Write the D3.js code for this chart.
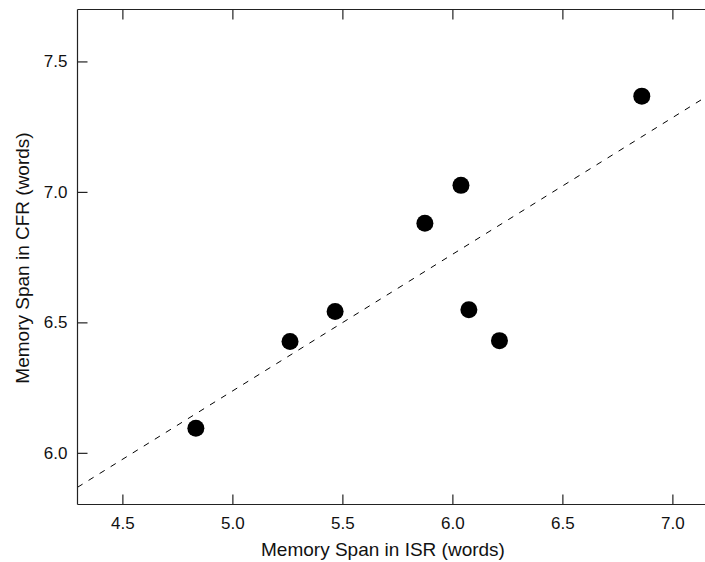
<!DOCTYPE html>
<html>
<head>
<meta charset="utf-8">
<script src="https://cdn.jsdelivr.net/npm/d3@7"></script>
<style>
  html, body { margin: 0; padding: 0; background: #fff; }
  svg { display: block; font-family: "Liberation Sans", Arial, Helvetica, sans-serif; }
</style>
</head>
<body>
<svg id="chart" width="705" height="562"></svg>
<script>
// Memory span per participant group: immediate serial recall vs. free recall
const isrSpan = [4.834, 5.262, 5.467, 5.875, 6.039, 6.075, 6.214, 6.861];
const cfrSpan = [6.094, 6.427, 6.542, 6.880, 7.025, 6.548, 6.430, 7.367];

// Least-squares fit line, given by its two end points
const fitX = [4.296, 7.2];
const fitY = [5.868, 7.389];

const xTicks = [4.5, 5.0, 5.5, 6.0, 6.5, 7.0];
const yTicks = [6.0, 6.5, 7.0, 7.5];

const xTitle = "Memory Span in ISR (words)";
const yTitle = "Memory Span in CFR (words)";

const svg = d3.select("#chart");
const W = 705, H = 562;
const padL = 77.5, padT = 9.5, padB = 504.5;

const x = d3.scaleLinear().domain([4.296, 7.2]).range([padL, padL + 2.904 * 220]);
const y = d3.scaleLinear().domain([5.802, 7.699]).range([padB, padT]);

svg.append("defs").append("clipPath").attr("id", "plotClip")
  .append("rect").attr("x", padL).attr("y", padT).attr("width", W - padL).attr("height", padB - padT);

// Fit line (dashed)
svg.append("g").attr("clip-path", "url(#plotClip)")
  .append("path")
  .datum(fitX.map((v, i) => [v, fitY[i]]))
  .attr("d", d3.line().x(d => x(d[0])).y(d => y(d[1])))
  .attr("fill", "none")
  .attr("stroke", "#000")
  .attr("stroke-width", 1)
  .attr("stroke-dasharray", "6,7");

// Points
svg.append("g").selectAll("circle")
  .data(isrSpan.map((v, i) => [v, cfrSpan[i]]))
  .join("circle")
  .attr("cx", d => x(d[0]))
  .attr("cy", d => y(d[1]))
  .attr("r", 8.5)
  .attr("fill", "#000");

const tickLen = 10;
const axisColor = "#222";

// Bottom axis, ticks pointing inward
const gx = svg.append("g").attr("transform", `translate(0,${padB})`)
  .call(d3.axisBottom(x).tickValues(xTicks).tickFormat(d3.format(".1f")).tickSize(-tickLen).tickPadding(12));
// Left axis, ticks pointing inward
const gy = svg.append("g").attr("transform", `translate(${padL},0)`)
  .call(d3.axisLeft(y).tickValues(yTicks).tickFormat(d3.format(".1f")).tickSize(-tickLen).tickPadding(10));
// Top axis, ticks only
const gt = svg.append("g").attr("transform", `translate(0,${padT})`)
  .call(d3.axisTop(x).tickValues(xTicks).tickFormat("").tickSize(-tickLen));

[gx, gy, gt].forEach(g => {
  g.select(".domain").attr("stroke", axisColor).attr("stroke-width", 1.2);
  g.selectAll(".tick line").attr("stroke", axisColor).attr("stroke-width", 1.2);
  g.selectAll(".tick text").attr("fill", "#111").style("font-size", "17px")
    .style("font-family", "'Liberation Sans', Arial, sans-serif");
});
// Extend domain lines to the frame edges
gx.select(".domain").attr("d", `M${padL},0H${W}`);
gt.select(".domain").attr("d", `M${padL},0H${W}`);
gy.select(".domain").attr("d", `M0,${padT}V${padB}`);

// Axis titles
svg.append("text")
  .attr("x", 383).attr("y", 556)
  .attr("text-anchor", "middle")
  .style("font-size", "19px").attr("fill", "#111")
  .text(xTitle);

svg.append("text")
  .attr("transform", `translate(28.5,258) rotate(-90)`)
  .attr("text-anchor", "middle")
  .style("font-size", "19px").attr("fill", "#111")
  .text(yTitle);
</script>
</body>
</html>
